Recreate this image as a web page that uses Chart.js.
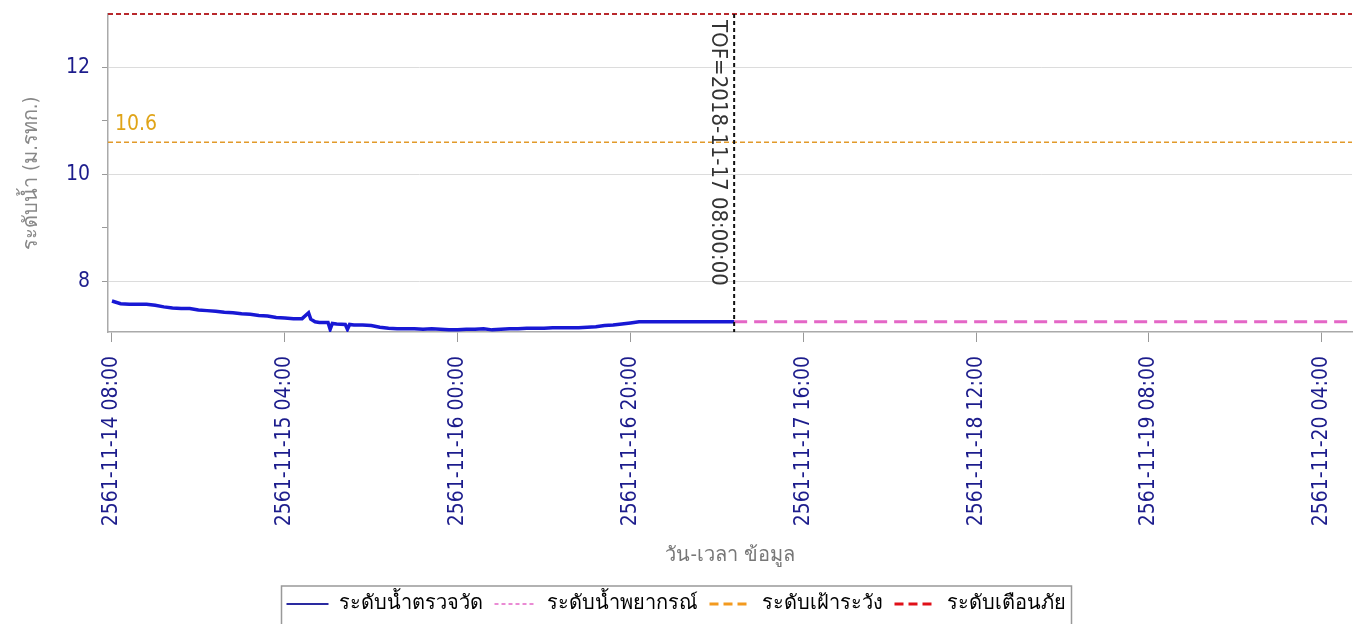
<!DOCTYPE html>
<html>
<head>
<meta charset="utf-8">
<title>ระดับน้ำ</title>
<script src="https://cdn.jsdelivr.net/npm/chart.js@4.4.1/dist/chart.umd.min.js"></script>
<style>
  html, body { margin: 0; padding: 0; background: #fff; }
  #wrap { width: 1356px; height: 624px; }
</style>
</head>
<body>
<div id="wrap"><canvas id="levelChart"></canvas></div>
<script>
// hours counted from 2561-11-14 08:00
const obsHours = [0, 1, 2, 3, 4, 5, 6, 7, 8, 9, 10, 11, 12, 13, 14, 15, 16, 17, 18, 19, 20, 21, 22,
  22.75, 23, 23.5, 24, 25, 25.25, 25.5, 26, 27, 27.25, 27.5, 28, 29, 30, 31, 32, 33, 34, 35, 36,
  37, 38, 39, 40, 41, 42, 43, 44, 45, 46, 47, 48, 49, 50, 51, 52, 53, 54, 55, 56, 57, 58, 59, 60,
  61, 62, 63, 64, 65, 66, 67, 68, 69, 70, 71, 72];
const obsLevel = [7.63, 7.58, 7.57, 7.57, 7.57, 7.55, 7.52, 7.50, 7.49, 7.49, 7.46, 7.45, 7.44, 7.42,
  7.41, 7.39, 7.38, 7.36, 7.35, 7.32, 7.31, 7.30, 7.30,
  7.41, 7.29, 7.24, 7.23, 7.23, 7.10, 7.21, 7.20, 7.19, 7.10, 7.19, 7.18, 7.18, 7.17, 7.14, 7.12,
  7.11, 7.11, 7.11, 7.10, 7.11, 7.10, 7.09, 7.09, 7.10, 7.10, 7.11, 7.09, 7.10, 7.11, 7.11, 7.12,
  7.12, 7.12, 7.13, 7.13, 7.13, 7.13, 7.14, 7.15, 7.17, 7.18, 7.20, 7.22,
  7.24, 7.24, 7.24, 7.24, 7.24, 7.24, 7.24, 7.24, 7.24, 7.24, 7.24, 7.24];

const fcHours = [72, 144];
const fcLevel = [7.24, 7.24];

const warnLevel = 10.6;   // ระดับเฝ้าระวัง
const alarmLevel = 13.0;  // ระดับเตือนภัย
const tofHour = 72;
const tofText = 'TOF=2018-11-17 08:00:00';

const xStart = -0.46;
const xEnd = 143.5;
const xTickHours = [0, 20, 40, 60, 80, 100, 120, 140];
const xTickLabels = ['2561-11-14 08:00', '2561-11-15 04:00', '2561-11-16 00:00', '2561-11-16 20:00',
  '2561-11-17 16:00', '2561-11-18 12:00', '2561-11-19 08:00', '2561-11-20 04:00'];

const yMin = 7.05;
const yMax = 13;
const yTicks = [8, 9, 10, 11, 12];
const yLabelled = [8, 10, 12];

const narrow = "'DejaVu Sans Condensed', 'DejaVu Sans', sans-serif";
const navy = '#1c1c8c';

const toPoints = (xs, ys) => xs.map((x, i) => ({ x: x, y: ys[i] }));

// draws the TOF marker, the 10.6 note and the box round the legend
const extrasPlugin = {
  id: 'extras',
  afterDatasetsDraw(chart) {
    const { ctx, chartArea, scales } = chart;
    const xp = scales.x.getPixelForValue(tofHour);
    ctx.save();
    ctx.strokeStyle = '#111';
    ctx.lineWidth = 2;
    ctx.setLineDash([4, 3]);
    ctx.beginPath();
    ctx.moveTo(xp, chartArea.top);
    ctx.lineTo(xp, chartArea.bottom);
    ctx.stroke();
    ctx.setLineDash([]);

    ctx.translate(xp - 16, chartArea.top + 6);
    ctx.rotate(Math.PI / 2);
    ctx.fillStyle = '#333';
    ctx.font = '22px ' + narrow;
    ctx.textAlign = 'left';
    ctx.textBaseline = 'middle';
    ctx.fillText(tofText, 0, 0);
    ctx.restore();

    ctx.save();
    ctx.fillStyle = '#e0a418';
    ctx.font = '21px ' + narrow;
    ctx.textAlign = 'left';
    ctx.textBaseline = 'bottom';
    ctx.fillText(String(warnLevel), chartArea.left + 7, scales.y.getPixelForValue(warnLevel) - 7);
    ctx.restore();
  },
  afterDraw(chart) {
    const lg = chart.legend;
    if (!lg || !lg.legendHitBoxes.length) return;
    const boxes = lg.legendHitBoxes;
    const left = boxes[0].left - 5;
    const right = boxes[boxes.length - 1].left + boxes[boxes.length - 1].width + 6;
    const top = boxes[0].top - 8;
    const ctx = chart.ctx;
    ctx.save();
    ctx.strokeStyle = '#999';
    ctx.lineWidth = 1.5;
    ctx.strokeRect(left, top, right - left, chart.height - top + 10);
    ctx.restore();
  }
};

new Chart(document.getElementById('levelChart'), {
  type: 'line',
  data: {
    datasets: [
      {
        label: 'ระดับน้ำตรวจวัด',
        data: toPoints(obsHours, obsLevel),
        borderColor: '#1818d4',
        backgroundColor: '#1818d4',
        borderWidth: 3.5,
        pointRadius: 0,
        legendColor: '#2a2aa0',
        legendWidth: 2
      },
      {
        label: 'ระดับน้ำพยากรณ์',
        data: toPoints(fcHours, fcLevel),
        borderColor: '#e466c6',
        backgroundColor: '#e466c6',
        borderWidth: 3,
        borderDash: [13, 7],
        pointRadius: 0,
        legendDash: [4, 3],
        legendWidth: 1.5
      },
      {
        label: 'ระดับเฝ้าระวัง',
        data: toPoints([xStart, xEnd], [warnLevel, warnLevel]),
        borderColor: '#e29a2a',
        backgroundColor: '#e29a2a',
        borderWidth: 1.5,
        borderDash: [5, 3],
        pointRadius: 0,
        legendColor: '#f39a1e',
        legendDash: [9, 5],
        legendWidth: 3
      },
      {
        label: 'ระดับเตือนภัย',
        data: toPoints([xStart, xEnd], [alarmLevel, alarmLevel]),
        borderColor: '#b8282c',
        backgroundColor: '#b8282c',
        borderWidth: 2,
        borderDash: [5, 3],
        pointRadius: 0,
        clip: false,
        legendColor: '#e01018',
        legendDash: [9, 5],
        legendWidth: 3
      }
    ]
  },
  options: {
    responsive: true,
    maintainAspectRatio: false,
    animation: false,
    layout: { padding: { top: 14, right: 4, left: 0, bottom: 0 } },
    scales: {
      x: {
        type: 'linear',
        min: xStart,
        max: xEnd,
        afterBuildTicks: s => { s.ticks = xTickHours.map(v => ({ value: v })); },
        afterFit: s => { s.height = 250; s.paddingLeft = 0; s.paddingRight = 0; },
        grid: { drawOnChartArea: false, tickLength: 10, color: '#999' },
        border: { color: '#aaa', width: 1.5 },
        ticks: {
          autoSkip: false,
          minRotation: 90,
          maxRotation: 90,
          padding: 14,
          color: navy,
          font: { family: narrow, size: 21 },
          callback: (v, i) => xTickLabels[i]
        },
        title: {
          display: true,
          text: 'วัน-เวลา ข้อมูล',
          color: '#777',
          font: { family: narrow, size: 20 },
          padding: { top: 0, bottom: 14 }
        }
      },
      y: {
        min: yMin,
        max: yMax,
        afterBuildTicks: s => { s.ticks = yTicks.map(v => ({ value: v })); },
        afterFit: s => { s.width = 108; s.paddingTop = 0; s.paddingBottom = 0; },
        grid: {
          color: c => (c.tick && yLabelled.includes(c.tick.value)) ? '#dcdcdc' : 'rgba(0,0,0,0)',
          tickColor: '#999',
          tickLength: 6
        },
        border: { color: '#aaa', width: 1.5 },
        ticks: {
          padding: 12,
          color: navy,
          font: { family: narrow, size: 21 },
          callback: v => yLabelled.includes(v) ? String(v) : ''
        },
        title: {
          display: true,
          text: 'ระดับน้ำ (ม.รทก.)',
          color: '#888',
          font: { family: narrow, size: 20 },
          padding: { top: 20, bottom: 0 }
        }
      }
    },
    plugins: {
      tooltip: { enabled: false },
      legend: {
        position: 'bottom',
        labels: {
          usePointStyle: true,
          pointStyle: 'line',
          pointStyleWidth: 42,
          padding: 12,
          color: '#000',
          font: { family: narrow, size: 20 },
          generateLabels: chart => {
            const items = Chart.defaults.plugins.legend.labels.generateLabels(chart);
            items.forEach(it => {
              const ds = chart.data.datasets[it.datasetIndex];
              if (ds.legendDash) it.lineDash = ds.legendDash;
              if (ds.legendColor) it.strokeStyle = ds.legendColor;
              if (ds.legendWidth) it.lineWidth = ds.legendWidth;
              it.pointStyle = 'line';
            });
            return items;
          }
        }
      }
    }
  },
  plugins: [extrasPlugin]
});
</script>
</body>
</html>
